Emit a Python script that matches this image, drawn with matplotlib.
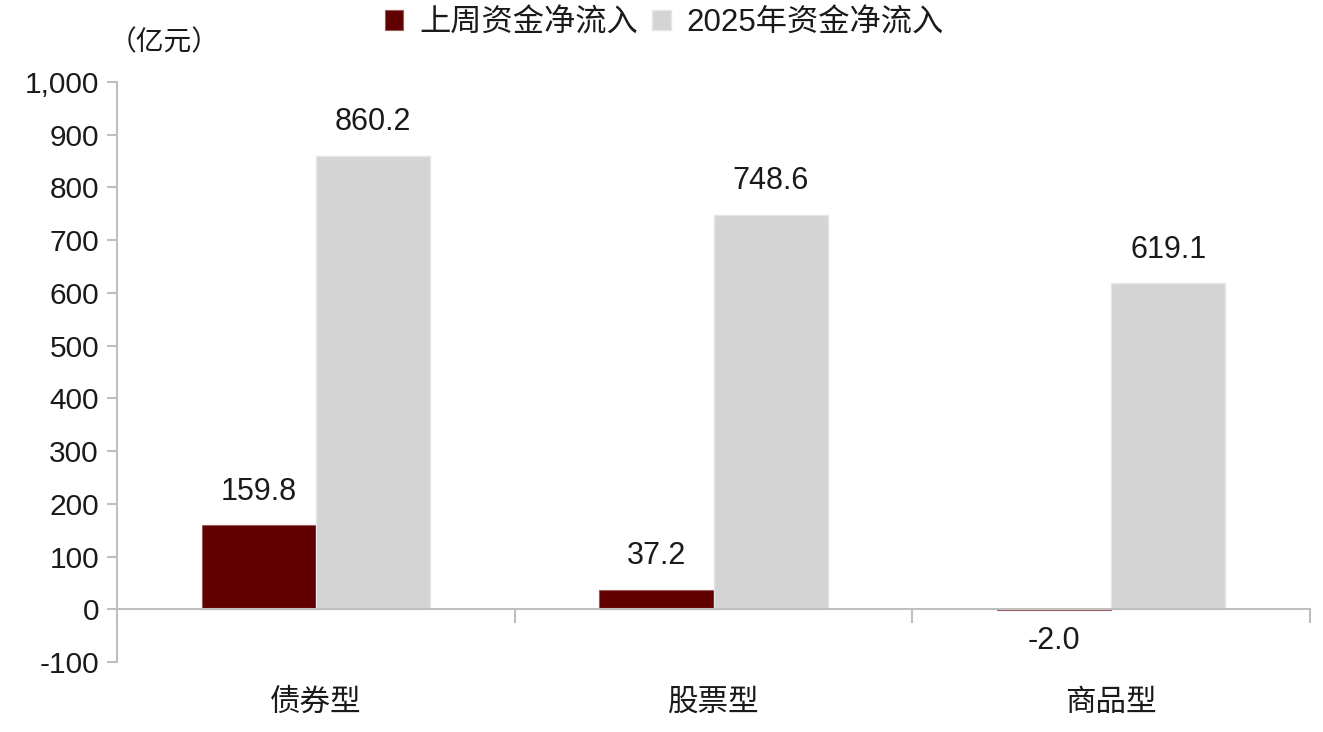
import numpy as np
import matplotlib.pyplot as plt
from matplotlib.ticker import FuncFormatter

plt.rcParams['font.family'] = ['Liberation Sans', 'Noto Sans CJK SC', 'DejaVu Sans']
plt.rcParams['axes.unicode_minus'] = False

categories = ['债券型', '股票型', '商品型']
last_week = [159.8, 37.2, -2.0]
ytd_2025 = [860.2, 748.6, 619.1]
series_names = ['上周资金净流入', '2025年资金净流入']

dark_red = '#600000'
light_gray = '#D4D4D4'
axis_gray = '#BFBFBF'
text_col = '#1a1a1a'

fig = plt.figure(figsize=(13.23, 7.32), dpi=100)
ax = fig.add_axes([117 / 1323, 1 - 662 / 732, (1310 - 117) / 1323, (662 - 82) / 732])

x = np.arange(len(categories))
w = 0.287
b1 = ax.bar(x - w / 2, last_week, w, color=dark_red, edgecolor='#9A5A5A', linewidth=0.8,
            label=series_names[0])
b2 = ax.bar(x + w / 2, ytd_2025, w, color=light_gray, edgecolor='#E6E6E6', linewidth=1,
            label=series_names[1])

# value labels, offset in points above / below the bar end
for bars, vals in [(b1, last_week), (b2, ytd_2025)]:
    for rect, v in zip(bars, vals):
        off = 24 if v >= 0 else -22
        ax.annotate(f'{v:.1f}', (rect.get_x() + rect.get_width() / 2, v),
                    xytext=(0, off), textcoords='offset points',
                    ha='center', va='center', fontsize=22, color=text_col)

ax.set_xlim(-0.5, len(categories) - 0.5)
ax.set_ylim(-100, 1000)
ax.set_yticks(np.arange(-100, 1001, 100))
ax.yaxis.set_major_formatter(FuncFormatter(lambda v, p: f'{int(v):,}'))

ax.spines['top'].set_visible(False)
ax.spines['right'].set_visible(False)
ax.spines['left'].set_color(axis_gray)
ax.spines['left'].set_linewidth(1.5)
ax.spines['bottom'].set_position(('data', 0))
ax.spines['bottom'].set_color(axis_gray)
ax.spines['bottom'].set_linewidth(1.5)

ax.tick_params(axis='y', direction='out', length=7, width=1.5, color=axis_gray,
               labelsize=21.5, labelcolor=text_col, pad=6)
ax.set_xticks(np.arange(-0.5, len(categories), 1.0))
ax.set_xticklabels([])
ax.tick_params(axis='x', direction='out', length=10, width=1.5, color=axis_gray)

for i, c in enumerate(categories):
    ax.text(i, -177, c, ha='center', va='center', fontsize=22, color=text_col)

fig.text(109 / 1323, 1 - 43 / 732, '（亿元）', ha='left', va='center', fontsize=20, color=text_col)

fig.legend(handles=[b1, b2], labels=series_names, loc='center', bbox_to_anchor=(0.502, 0.968),
           ncol=2, frameon=False, fontsize=22.5, handlelength=0.6, handleheight=0.6,
           handletextpad=0.5, columnspacing=0.45, labelcolor=text_col)

fig.savefig('out.png', dpi=100)
